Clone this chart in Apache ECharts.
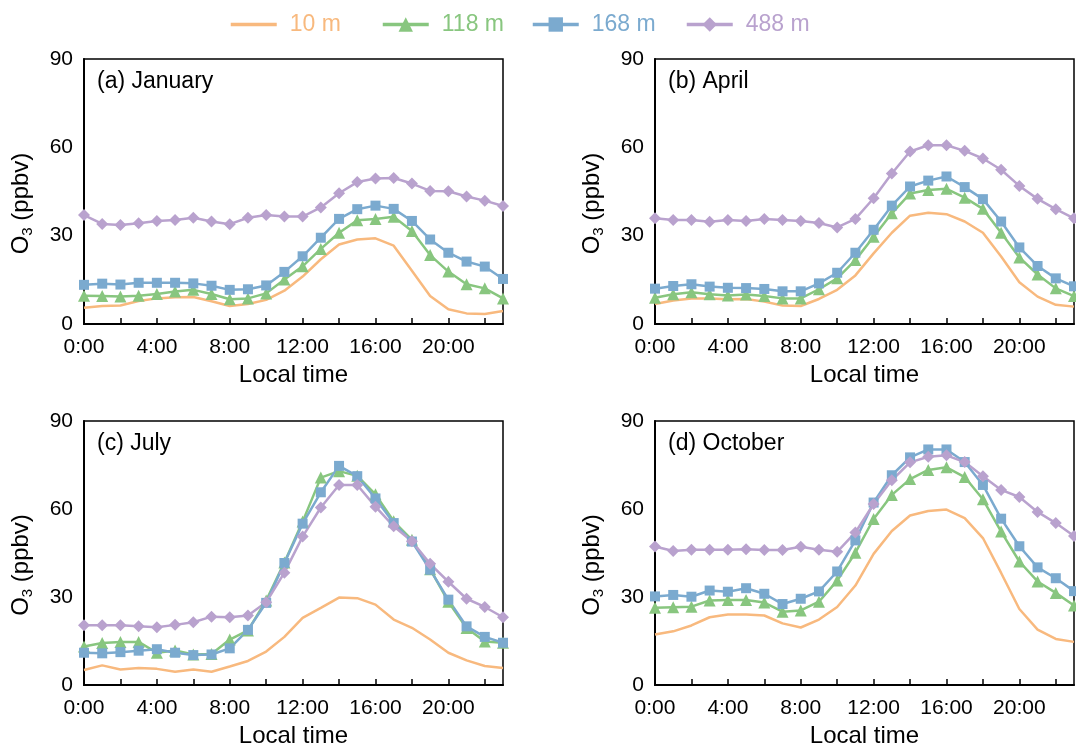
<!DOCTYPE html>
<html>
<head>
<meta charset="utf-8">
<script src="https://cdn.jsdelivr.net/npm/echarts@6/dist/echarts.min.js"></script>
<style>
  html, body { margin: 0; padding: 0; background: #fff; }
  #main { width: 1076px; height: 749px; }
</style>
</head>
<body>
<div id="main"></div>
<script>
// hourly O3 diurnal cycle at four heights
var hours = ['0:00','1:00','2:00','3:00','4:00','5:00','6:00','7:00','8:00','9:00','10:00','11:00',
  '12:00','13:00','14:00','15:00','16:00','17:00','18:00','19:00','20:00','21:00','22:00','23:00'];
var heights = ['10 m', '118 m', '168 m', '488 m'];
var panelTitles = ['(a) January', '(b) April', '(c) July', '(d) October'];

// (a) January
var jan10  = [5.5,6.1,6.3,7.8,8.7,9.1,9.2,7.7,6.1,6.8,8.2,11.3,16.1,22.0,27.0,28.7,29.1,26.6,18.1,9.5,5.0,3.6,3.4,4.4];
var jan118 = [9.6,9.5,9.3,9.6,10.2,11.0,11.6,10.2,8.4,8.7,10.4,15.1,19.6,25.5,31.0,35.2,35.7,36.4,31.6,23.4,17.8,13.5,12.1,8.7];
var jan168 = [13.3,13.7,13.4,14.0,14.0,14.0,13.8,13.0,11.6,11.8,13.1,17.7,23.0,29.3,35.7,39.0,40.2,39.1,35.0,28.7,24.2,21.2,19.5,15.3];
var jan488 = [37.0,34.0,33.6,34.2,35.0,35.3,36.1,34.8,33.9,36.1,37.0,36.5,36.5,39.6,44.4,48.2,49.4,49.6,47.7,45.2,45.1,43.3,41.9,40.1];

// (b) April
var apr10  = [6.8,8.0,8.7,8.7,8.4,8.5,7.6,6.3,6.1,8.5,11.6,16.5,24.0,31.0,36.8,37.8,37.3,34.8,31.0,22.9,14.2,9.3,6.5,5.9];
var apr118 = [8.9,10.1,10.8,10.1,9.7,10.0,9.5,8.7,8.7,11.8,15.5,21.7,29.6,37.6,44.3,45.5,45.9,42.9,39.1,31.0,22.6,16.8,12.1,9.5];
var apr168 = [12.0,12.9,13.5,12.7,12.3,12.2,11.9,11.1,11.1,13.8,17.4,24.2,32.0,40.2,46.7,48.7,50.1,46.5,42.4,34.8,26.0,19.7,15.5,12.8];
var apr488 = [35.9,35.3,35.3,34.7,35.3,35.0,35.7,35.3,35.0,34.3,32.8,35.7,42.7,51.1,58.6,60.7,60.7,58.8,56.2,52.4,46.9,42.5,39.0,35.9];

// (c) July
var jul10  = [5.1,6.7,5.3,5.8,5.5,4.5,5.3,4.5,6.3,8.2,11.4,16.4,22.9,26.3,29.8,29.6,27.4,22.3,19.5,15.5,11.0,8.4,6.5,5.8];
var jul118 = [13.1,14.3,14.7,14.7,11.0,11.8,10.4,10.6,15.5,18.6,28.8,41.8,55.7,70.7,72.9,71.3,65.0,55.8,49.5,39.5,28.4,19.4,14.8,14.4];
var jul168 = [11.0,10.8,11.2,11.7,12.2,11.0,10.2,10.4,12.5,18.8,28.0,41.6,55.0,65.7,74.7,71.2,63.6,55.2,48.9,39.3,29.1,20.0,16.4,14.4];
var jul488 = [20.4,20.4,20.4,20.0,19.7,20.5,21.4,23.3,23.1,23.7,28.2,38.3,50.6,60.5,68.2,68.2,60.8,54.1,49.0,41.3,35.2,29.4,26.6,23.1];

// (d) October
var oct10  = [17.2,18.3,20.3,23.1,24.0,24.0,23.7,21.0,19.6,22.3,26.6,33.9,44.7,52.5,57.8,59.3,59.8,56.9,50.1,38.2,25.9,18.9,15.7,14.7];
var oct118 = [26.3,26.5,26.7,28.8,29.0,29.0,28.1,25.0,25.4,28.4,35.6,45.1,56.6,64.8,70.2,73.3,74.2,70.9,63.3,52.3,42.1,35.3,31.4,27.1];
var oct168 = [30.2,30.7,30.1,32.2,31.8,33.0,31.1,27.6,29.4,31.9,38.7,49.3,62.2,71.5,77.6,80.3,80.3,76.0,68.2,56.7,47.3,40.1,36.4,32.0];
var oct488 = [47.2,45.7,46.1,46.1,46.1,46.3,46.0,46.0,47.1,46.1,45.4,52.0,61.7,69.8,75.9,77.8,78.3,76.0,71.2,66.5,64.1,59.0,55.2,50.8];

var panels = [
  [jan10, jan118, jan168, jan488],
  [apr10, apr118, apr168, apr488],
  [jul10, jul118, jul168, jul488],
  [oct10, oct118, oct168, oct488]
];

var colors = ['#F8B97E', '#88C67F', '#7BAACF', '#B9A2CE'];
var symbols = ['none', 'triangle', 'rect', 'diamond'];
var symbolSizes = [0, 12, 10, 12];
var FONT = 'Liberation Sans, Arial, sans-serif';

var gridPos = [
  { left: 84, top: 59 },
  { left: 655, top: 59 },
  { left: 84, top: 421 },
  { left: 655, top: 421 }
];
var legendLeft = [229, 381, 531, 685];

var grids = [], xAxes = [], yAxes = [], series = [], graphics = [];

gridPos.forEach(function (p, i) {
  grids.push({
    left: p.left, top: p.top, width: 419, height: 265,
    show: true, borderColor: '#000', borderWidth: 1.5, backgroundColor: 'transparent'
  });
  xAxes.push({
    gridIndex: i,
    type: 'category',
    data: hours,
    boundaryGap: false,
    name: 'Local time',
    nameLocation: 'middle',
    nameGap: 39,
    nameTextStyle: { fontFamily: FONT, fontSize: 24, color: '#000' },
    axisLine: { lineStyle: { color: '#000', width: 2 } },
    axisTick: { inside: true, length: 6, interval: 1, lineStyle: { color: '#000', width: 1.5 } },
    axisLabel: { interval: 3, margin: 13, fontFamily: FONT, fontSize: 21, color: '#000' },
    splitLine: { show: false }
  });
  yAxes.push({
    gridIndex: i,
    type: 'value',
    min: 0, max: 90, interval: 15,
    name: '{o|O}{s|3}{o| (ppbv)}',
    nameLocation: 'middle',
    nameGap: 49,
    nameTextStyle: {
      color: '#000',
      padding: [0, 24, 0, 0],
      rich: {
        o: { fontFamily: FONT, fontSize: 24, color: '#000' },
        s: { fontFamily: FONT, fontSize: 15, color: '#000', verticalAlign: 'bottom', lineHeight: 28 }
      }
    },
    axisLine: { show: true, lineStyle: { color: '#000', width: 2 } },
    axisTick: { inside: true, length: 6, lineStyle: { color: '#000', width: 1.5 } },
    axisLabel: {
      margin: 11, fontFamily: FONT, fontSize: 21, color: '#000',
      formatter: function (v) { return v % 30 === 0 ? String(v) : ''; }
    },
    splitLine: { show: false }
  });
  graphics.push({
    type: 'text',
    left: p.left + 13,
    top: p.top + 11,
    style: { text: panelTitles[i], fontFamily: FONT, fontSize: 23, fill: '#000' }
  });
  panels[i].forEach(function (vals, k) {
    series.push({
      name: heights[k],
      type: 'line',
      xAxisIndex: i,
      yAxisIndex: i,
      data: vals,
      symbol: symbols[k],
      symbolSize: symbolSizes[k],
      showSymbol: k > 0,
      showAllSymbol: true,
      color: colors[k],
      lineStyle: { color: colors[k], width: 2.5 },
      itemStyle: { color: colors[k] },
      animation: false
    });
  });
});

// one legend per height so each item sits where the reference has it
var legends = heights.map(function (h, k) {
  var item = { name: h, textStyle: { color: colors[k] } };
  if (k === 0) item.itemStyle = { opacity: 0 };
  return {
    left: legendLeft[k],
    top: 13,
    padding: 0,
    itemWidth: 46,
    itemHeight: 18,
    lineStyle: { width: 3.5 },
    data: [item],
    textStyle: { fontFamily: FONT, fontSize: 23, padding: [0, 0, 0, 8] }
  };
});

var chart = echarts.init(document.getElementById('main'));
chart.setOption({
  animation: false,
  legend: legends,
  grid: grids,
  xAxis: xAxes,
  yAxis: yAxes,
  series: series,
  graphic: graphics
});
</script>
</body>
</html>
